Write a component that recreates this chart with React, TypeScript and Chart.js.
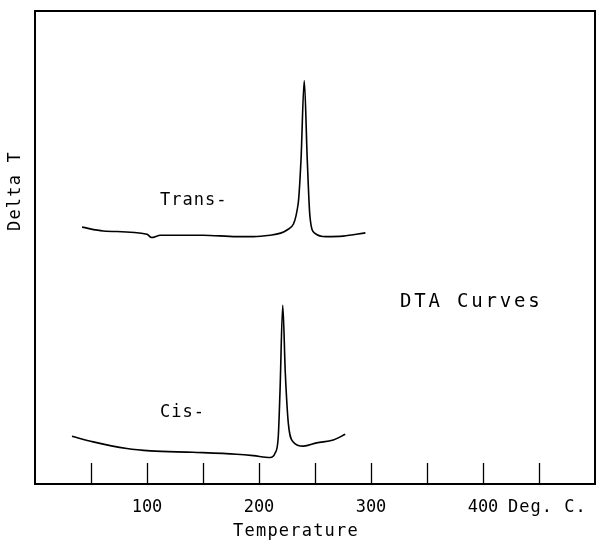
import React, { useEffect, useRef } from "react";
import { Chart, registerables } from "chart.js";

Chart.register(...registerables);

// Trans- curve (temperature °C, relative Delta T)
const transTemp = [42, 61, 100, 104, 112, 150, 180, 195, 210, 225, 235, 237.5, 240.4, 243.1, 245.5, 250, 260, 275, 295];
const transDelta = [54.3, 53.5, 52.8, 52.1, 52.6, 52.6, 52.3, 52.3, 52.6, 53.7, 59.3, 68.5, 85.3, 68.5, 56.5, 53.0, 52.3, 52.4, 53.1];

// Cis- curve
const cisTemp = [33, 52, 82, 103, 141, 180, 195, 210, 214.3, 217.2, 218.8, 221.2, 223.5, 226.2, 230.6, 239.6, 251.5, 266.3, 277];
const cisDelta = [10.1, 8.9, 7.5, 7.0, 6.7, 6.3, 6.0, 5.6, 6.5, 10.0, 19.9, 37.8, 23.4, 12.8, 8.9, 8.0, 8.7, 9.3, 10.5];

// Axis
const xTicks = [50, 100, 150, 200, 250, 300, 350, 400, 450];
const xTickLabels = ["100", "200", "300", "400"];
const xLabelValues = [100, 200, 300, 400];
const xUnit = "Deg. C.";
const xTitle = "Temperature";
const yTitle = "Delta T";
const chartTitle = "DTA Curves";
const seriesNames = ["Trans-", "Cis-"];

const FONT = '"DejaVu Sans Mono", monospace';

const overlay = {
  id: "overlay",
  afterDraw(chart: any) {
    const ctx = chart.ctx;
    const { left, right, top, bottom } = chart.chartArea;
    const xs = chart.scales.x;
    const ys = chart.scales.y;
    ctx.save();
    ctx.strokeStyle = "#000";
    ctx.fillStyle = "#000";
    // frame
    ctx.lineWidth = 2;
    ctx.strokeRect(left, top, right - left, bottom - top);
    // inward ticks
    ctx.lineWidth = 1.3;
    xTicks.forEach((t) => {
      const px = Math.round(xs.getPixelForValue(t)) + 0.5;
      ctx.beginPath();
      ctx.moveTo(px, bottom);
      ctx.lineTo(px, bottom - 21);
      ctx.stroke();
    });
    // tick labels
    ctx.font = `17px ${FONT}`;
    ctx.textAlign = "center";
    ctx.textBaseline = "middle";
    xLabelValues.forEach((v, i) => {
      ctx.fillText(xTickLabels[i], xs.getPixelForValue(v), bottom + 24);
    });
    ctx.textAlign = "left";
    (ctx as any).letterSpacing = "1px";
    ctx.fillText(xUnit, xs.getPixelForValue(400) + 25, bottom + 24);
    // x title
    ctx.font = `17px ${FONT}`;
    (ctx as any).letterSpacing = "1.2px";
    ctx.textAlign = "center";
    ctx.fillText(xTitle, 296, bottom + 48);
    // y title
    ctx.save();
    ctx.translate(16, 191);
    ctx.rotate(-Math.PI / 2);
    ctx.fillText(yTitle, 0, 0);
    ctx.restore();
    // series labels
    ctx.textAlign = "left";
    (ctx as any).letterSpacing = "1px";
    ctx.font = `17px ${FONT}`;
    ctx.fillText(seriesNames[0], xs.getPixelForValue(111.6), ys.getPixelForValue(60.0));
    ctx.fillText(seriesNames[1], xs.getPixelForValue(111.6), ys.getPixelForValue(15.0));
    ctx.font = `19px ${FONT}`;
    (ctx as any).letterSpacing = "2.8px";
    ctx.fillText(chartTitle, xs.getPixelForValue(325.9), ys.getPixelForValue(38.5));
    ctx.restore();
  },
};

export default function App() {
  const ref = useRef<HTMLCanvasElement>(null);
  useEffect(() => {
    if (!ref.current) return;
    const chart = new Chart(ref.current, {
      type: "line",
      data: {
        datasets: [
          {
            label: seriesNames[0],
            data: transTemp.map((x, i) => ({ x, y: transDelta[i] })),
            borderColor: "#000",
            borderWidth: 1.6,
            pointRadius: 0,
            cubicInterpolationMode: "monotone",
          },
          {
            label: seriesNames[1],
            data: cisTemp.map((x, i) => ({ x, y: cisDelta[i] })),
            borderColor: "#000",
            borderWidth: 1.6,
            pointRadius: 0,
            cubicInterpolationMode: "monotone",
          },
        ],
      },
      options: {
        responsive: false,
        animation: false,
        layout: { padding: { left: 35, top: 11, right: 2, bottom: 59 } },
        plugins: { legend: { display: false }, tooltip: { enabled: false } },
        scales: {
          x: { type: "linear", min: 0, max: 500, display: false },
          y: { type: "linear", min: 0, max: 100, display: false },
        },
      },
      plugins: [overlay],
    });
    return () => chart.destroy();
  }, []);
  return (
    <div style={{ position: "fixed", left: 0, top: 0, width: 597, height: 543, background: "#fff" }}>
      <canvas ref={ref} width={597} height={543} />
    </div>
  );
}
